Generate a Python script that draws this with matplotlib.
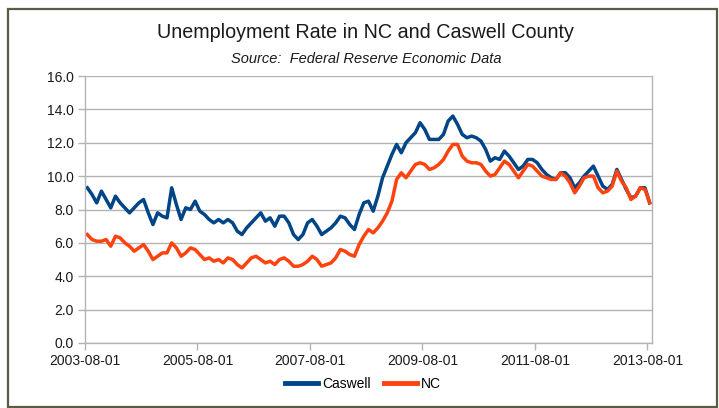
import matplotlib
matplotlib.use("Agg")
import matplotlib.pyplot as plt
from matplotlib.patches import Rectangle
import numpy as np

plt.rcParams['font.family'] = ['Liberation Sans', 'DejaVu Sans']

tick_labels = ["2003-08-01", "2005-08-01", "2007-08-01", "2009-08-01", "2011-08-01", "2013-08-01"]

caswell = [
    9.3, 8.9, 8.4, 9.1, 8.6, 8.1, 8.8, 8.4, 8.1, 7.8, 8.1, 8.4,
    8.6, 7.8, 7.1, 7.8, 7.6, 7.5, 9.3, 8.3, 7.4, 8.1, 8.0, 8.5,
    7.9, 7.7, 7.4, 7.2, 7.4, 7.2, 7.4, 7.2, 6.7, 6.5, 6.9, 7.2,
    7.5, 7.8, 7.3, 7.5, 7.0, 7.6, 7.6, 7.2, 6.5, 6.2, 6.5, 7.2,
    7.4, 7.0, 6.5, 6.7, 6.9, 7.2, 7.6, 7.5, 7.1, 6.8, 7.7, 8.4,
    8.5, 7.9, 8.8, 9.9, 10.6, 11.3, 11.9, 11.4, 12.0, 12.3, 12.6, 13.2,
    12.8, 12.2, 12.2, 12.2, 12.5, 13.3, 13.6, 13.1, 12.5, 12.3, 12.4, 12.3,
    12.1, 11.6, 10.9, 11.1, 11.0, 11.5, 11.2, 10.8, 10.4, 10.6, 11.0, 11.0,
    10.8, 10.4, 10.1, 9.9, 9.8, 10.2, 10.2, 9.9, 9.3, 9.6, 10.0, 10.3,
    10.6, 10.0, 9.4, 9.2, 9.5, 10.4, 9.8, 9.2, 8.7, 8.8, 9.3, 9.3,
    8.4,
]

nc = [
    6.5, 6.2, 6.1, 6.1, 6.2, 5.8, 6.4, 6.3, 6.0, 5.8, 5.5, 5.7,
    5.9, 5.5, 5.0, 5.2, 5.4, 5.4, 6.0, 5.7, 5.2, 5.4, 5.7, 5.6,
    5.3, 5.0, 5.1, 4.9, 5.0, 4.8, 5.1, 5.0, 4.7, 4.5, 4.8, 5.1,
    5.2, 5.0, 4.8, 4.9, 4.7, 5.0, 5.1, 4.9, 4.6, 4.6, 4.7, 4.9,
    5.2, 5.0, 4.6, 4.7, 4.8, 5.1, 5.6, 5.5, 5.3, 5.2, 5.9, 6.4,
    6.8, 6.6, 6.9, 7.3, 7.8, 8.5, 9.8, 10.2, 9.9, 10.3, 10.7, 10.8,
    10.7, 10.4, 10.5, 10.7, 11.0, 11.5, 11.9, 11.9, 11.2, 10.9, 10.8, 10.8,
    10.7, 10.3, 10.0, 10.1, 10.5, 10.9, 10.7, 10.3, 9.9, 10.3, 10.7, 10.6,
    10.3, 10.0, 9.9, 9.8, 9.8, 10.2, 10.0, 9.6, 9.0, 9.4, 9.9, 10.0,
    10.0, 9.3, 9.0, 9.1, 9.4, 10.3, 9.7, 9.3, 8.6, 8.8, 9.3, 9.2,
    8.4,
]

n = len(caswell)
x = np.arange(n)

fig = plt.figure(figsize=(7.19, 4.08), dpi=100)
fig.patch.set_facecolor('white')

# outer frame
fig.add_artist(Rectangle((8/719, 1 - 407/408), (717-8)/719, (407-9)/408,
                         transform=fig.transFigure, fill=False,
                         edgecolor='#5b5b45', linewidth=1.6))

ax = fig.add_axes([85/719, 1 - 343/408, (652-85)/719, (343-76)/408])

grid_c = '#b3b3b3'
ax.plot(x, caswell, color='#004586', linewidth=2.5, label='Caswell', solid_joinstyle='round')
ax.plot(x, nc, color='#ff420e', linewidth=2.5, label='NC', solid_joinstyle='round')

ax.set_xlim(-0.5, n - 0.5)
ax.set_ylim(0, 16)
ax.set_yticks(np.arange(0, 16.1, 2))
ax.set_yticklabels([f"{v:.1f}" for v in np.arange(0, 16.1, 2)])
ax.set_xticks(np.arange(len(tick_labels)) * 24 - 0.5)
ax.set_xticklabels(tick_labels)

ax.yaxis.grid(True, color=grid_c, linewidth=1.0)
ax.set_axisbelow(True)
for s in ['left', 'right', 'bottom']:
    ax.spines[s].set_color(grid_c)
    ax.spines[s].set_linewidth(1.0)
ax.spines['top'].set_visible(False)
ax.tick_params(axis='both', colors=grid_c, labelcolor='#1a1a1a', labelsize=10,
               length=5, width=1.0)
ax.tick_params(axis='x', pad=3)
ax.tick_params(axis='y', pad=3)

fig.text(365/719, 1 - 33/408, "Unemployment Rate in NC and Caswell County",
         ha='center', va='center', fontsize=14.2, color='#1a1a1a')
fig.text(366/719, 1 - 59/408, "Source:  Federal Reserve Economic Data",
         ha='center', va='center', fontsize=10.5, style='italic', color='#1a1a1a')

leg = fig.legend(loc='center', bbox_to_anchor=(363/719, 1 - 384/408), ncol=2,
                 frameon=False, fontsize=10, handlelength=2.4, handletextpad=0.3,
                 columnspacing=0.9)
for line in leg.get_lines():
    line.set_linewidth(3.5)

fig.savefig("out.png", dpi=100, facecolor='white')
